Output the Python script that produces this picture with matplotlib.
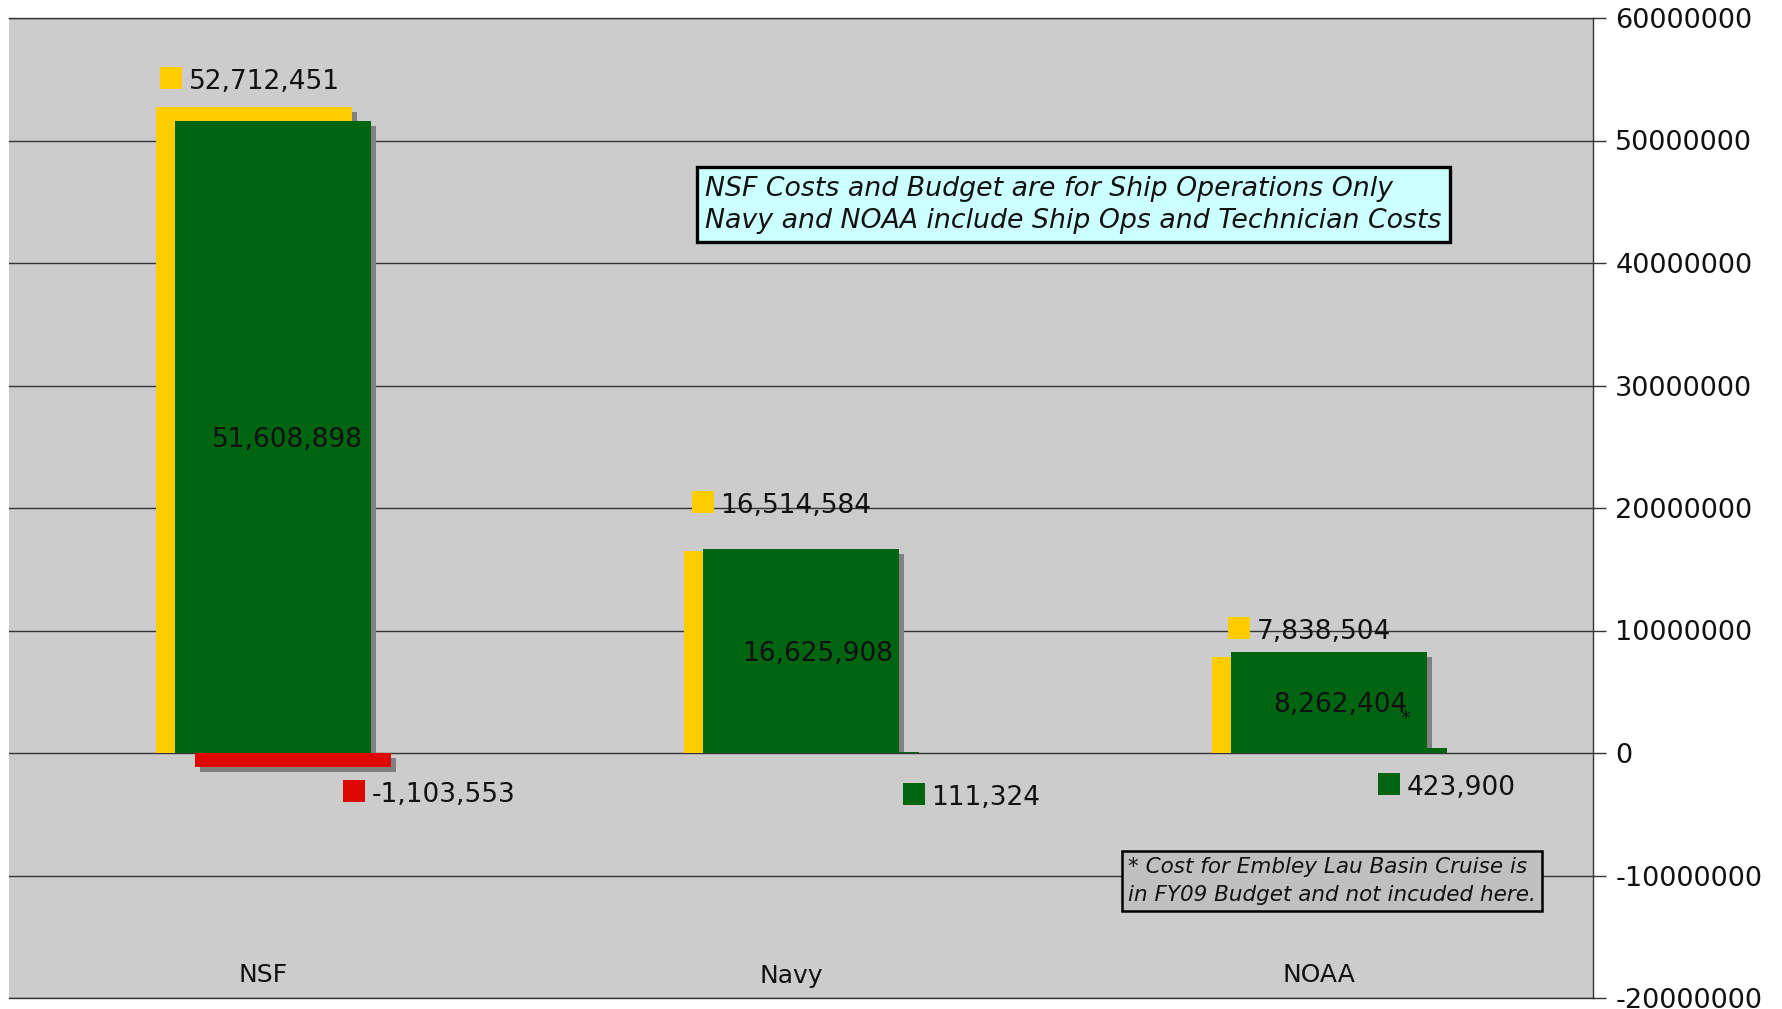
import matplotlib
matplotlib.use('Agg')
import matplotlib.pyplot as plt
from matplotlib.offsetbox import HPacker, TextArea, DrawingArea, AnnotationBbox
from matplotlib.patches import Rectangle
from matplotlib.ticker import FuncFormatter, FixedLocator
import matplotlib.transforms as mtransforms

# ---------------- data ----------------
categories = ['NSF', 'Navy', 'NOAA']
budget = [52712451, 16514584, 7838504]
cost = [51608898, 16625908, 8262404]
difference = [-1103553, 111324, 423900]
y_ticks = [-20000000, -10000000, 0, 10000000, 20000000,
           30000000, 40000000, 50000000, 60000000]

note_top = ("NSF Costs and Budget are for Ship Operations Only\n"
            "Navy and NOAA include Ship Ops and Technician Costs")
note_bottom = ("* Cost for Embley Lau Basin Cruise is\n"
               "in FY09 Budget and not incuded here.")

# ---------------- style ----------------
YELLOW = '#FFCC00'
GREEN = '#006411'
RED = '#DD0806'
SHADOW = '#808080'
GRID = '#333333'
plt.rcParams['font.family'] = ['DejaVu Sans']

W, H, DPI = 1782, 1009, 100
fig = plt.figure(figsize=(W / DPI, H / DPI), dpi=DPI)
fig.patch.set_facecolor('white')
L, R, T, B = 9, 1593, 18, 998
ax = fig.add_axes([L / W, 1 - B / H, (R - L) / W, (B - T) / H])
ax.set_facecolor('#CCCCCC')
ax.set_xlim(-0.5, len(categories) - 0.5)
ax.set_ylim(y_ticks[0], y_ticks[-1])

# pixel -> data conversions
px_x = (len(categories)) / (R - L)
px_y = (y_ticks[-1] - y_ticks[0]) / (B - T)

bar_w = 196 * px_x
step = 19.5 * px_x
sh_dx, sh_dy = 5 * px_x, 5 * px_y

series = [
    (budget, [YELLOW] * 3, -step),
    (cost, [GREEN] * 3, 0.0),
    (difference, [RED if v < 0 else GREEN for v in difference], step),
]

z = 3
for vals, cols, off in series:
    xs = [i + off for i in range(len(categories))]
    # shadows
    for x, v in zip(xs, vals):
        if v > 0:
            h = v - sh_dy
            if h > 0:
                ax.bar(x + sh_dx, h, width=bar_w, bottom=0, color=SHADOW,
                       linewidth=0, zorder=z)
        else:
            ax.bar(x + sh_dx, v, width=bar_w, bottom=-sh_dy, color=SHADOW,
                   linewidth=0, zorder=z)
    z += 1
    ax.bar(xs, vals, width=bar_w, color=cols, linewidth=0, zorder=z)
    z += 1

# ---------------- labels ----------------
LABEL_FS = 19
SQ = 22 * 72 / DPI  # square size in points


def key_label(color, text):
    da = DrawingArea(SQ, SQ, 0, 0)
    da.add_artist(Rectangle((0, 0), SQ, SQ, facecolor=color, edgecolor='none'))
    ta = TextArea(text, textprops=dict(fontsize=LABEL_FS, color='#111111'))
    return HPacker(children=[da, ta], align='baseline', pad=0, sep=7 * 72 / DPI)


budget_off = [(-4, 26), (0, 46), (0, 26)]
diff_off = [(137, -41), (151, -44), (98, -34)]
cost_dx = [14, 17, 11]

for i, v in enumerate(budget):
    ab = AnnotationBbox(key_label(YELLOW, f'{v:,}'), (i - step, v),
                        xybox=budget_off[i], boxcoords='offset pixels',
                        frameon=False, pad=0, box_alignment=(0.5, 0.5),
                        zorder=20)
    ax.add_artist(ab)

for i, v in enumerate(cost):
    ax.annotate(f'{v:,}', (i, v / 2), xytext=(cost_dx[i], 0),
                textcoords='offset pixels', ha='center', va='center_baseline',
                fontsize=LABEL_FS, color='#111111', zorder=20)

for i, v in enumerate(difference):
    col = RED if v < 0 else GREEN
    ab = AnnotationBbox(key_label(col, f'{v:,}'), (i + step, 0),
                        xybox=diff_off[i], boxcoords='offset pixels',
                        frameon=False, pad=0, box_alignment=(0.5, 0.5),
                        zorder=20)
    ax.add_artist(ab)

# asterisk by NOAA cost
ax.annotate('*', (2, cost[2] / 2), xytext=(76, -16), textcoords='offset pixels',
            ha='center', va='center', fontsize=14, color='#111111', zorder=21)

# category labels inside plot near bottom
trans = mtransforms.blended_transform_factory(ax.transData, ax.transAxes)
for i, c in enumerate(categories):
    ax.text(i - 10 * px_x, (B - 973) / (B - T), c, transform=trans, ha='center',
            va='center_baseline', fontsize=18, color='#111111')

# notes
ax.text((705 - L) / (R - L), (B - 204.5) / (B - T), note_top,
        transform=ax.transAxes, ha='left', va='center', fontsize=19.3,
        style='italic', linespacing=1.3, color='#111111', zorder=25,
        bbox=dict(boxstyle='square,pad=0.3', facecolor='#CCFFFF',
                  edgecolor='black', linewidth=2.4))
ax.text((1128 - L) / (R - L), (B - 881) / (B - T), note_bottom,
        transform=ax.transAxes, ha='left', va='center', fontsize=15.5,
        style='italic', linespacing=1.45, color='#111111', zorder=25,
        bbox=dict(boxstyle='square,pad=0.28', facecolor='#C0C0C0',
                  edgecolor='black', linewidth=1.8))

# ---------------- axes ----------------
ax.set_xticks([])
ax.yaxis.set_major_locator(FixedLocator(y_ticks))
ax.yaxis.set_major_formatter(FuncFormatter(lambda v, p: f'{int(round(v))}'))
ax.yaxis.tick_right()
ax.tick_params(axis='y', direction='out', length=9, width=1, color=GRID,
               labelcolor='#111111', labelsize=19.5, pad=7)
ax.yaxis.grid(True, color=GRID, linewidth=1.0)
ax.set_axisbelow(True)
for s in ['left']:
    ax.spines[s].set_visible(False)
for s in ['right', 'top', 'bottom']:
    ax.spines[s].set_color(GRID)
    ax.spines[s].set_linewidth(1.0)

fig.savefig('out.png', dpi=DPI)
